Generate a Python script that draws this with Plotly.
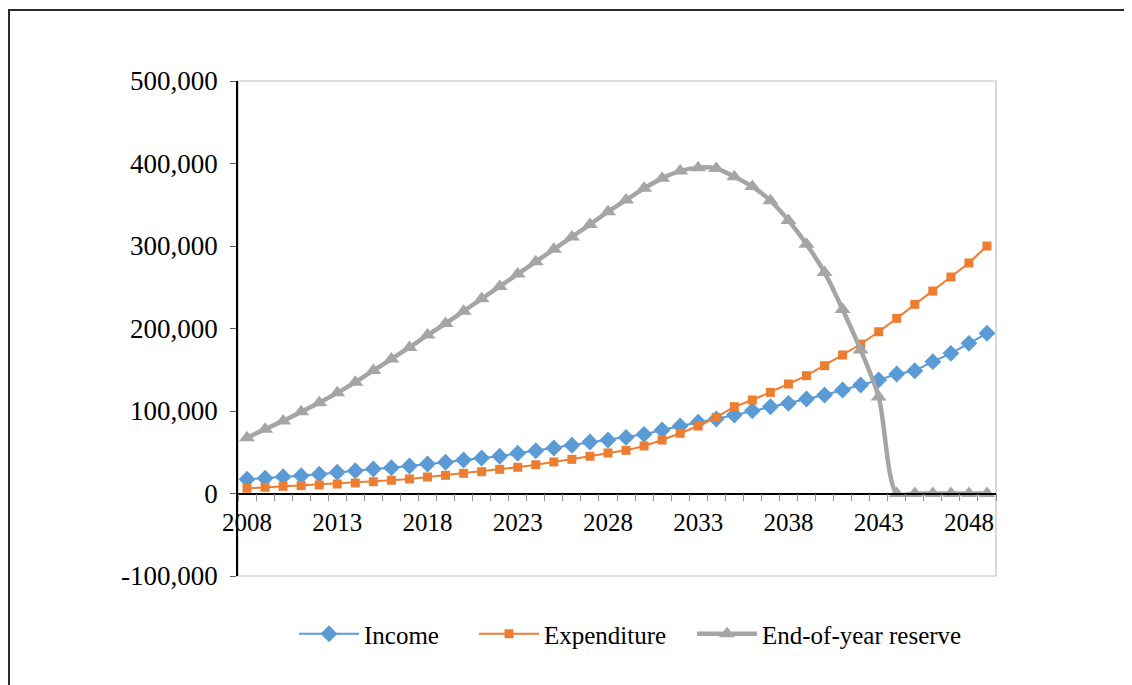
import plotly.graph_objects as go

years = list(range(2008, 2050))

income = [17200, 18400, 20400, 21600, 23300, 25700, 27600, 29700, 31300, 33300,
          35800, 37800, 40600, 43000, 45100, 48700, 51900, 55100, 58400, 62400,
          64800, 68000, 71700, 77000, 81800, 86300, 90300, 95100, 100400, 105200,
          109300, 114500, 119400, 125400, 131500, 137600, 144800, 148800, 159800, 169900,
          182000, 194200]

expenditure = [6300, 7500, 8700, 9500, 10300, 11500, 12700, 14300, 16000, 17600,
               20000, 22000, 24500, 26400, 29300, 31800, 34900, 38200, 41400, 45100,
               49100, 52300, 57600, 64800, 73000, 81800, 92300, 105200, 113300, 122600,
               132700, 142800, 154900, 167900, 181200, 196100, 212300, 229300, 245400, 262400,
               279400, 300000]

reserve = [67500, 78000, 88000, 99000, 110000, 122000, 135000, 149000, 163000, 177000,
           192000, 206000, 221000, 236000, 251000, 266000, 281000, 296000, 311000, 326000,
           341500, 355700, 369900, 382000, 391000, 395000, 394000, 384000, 372000, 355000,
           331000, 302000, 268000, 223000, 174000, 117000, 0, 0, 0, 0,
           0, 0]

x_tick_vals = [2008, 2013, 2018, 2023, 2028, 2033, 2038, 2043, 2048]
x_tick_text = [str(v) for v in x_tick_vals]
y_tick_vals = [-100000, 0, 100000, 200000, 300000, 400000, 500000]
y_tick_text = ["-100,000", "0", "100,000", "200,000", "300,000", "400,000", "500,000"]

FONT = "Liberation Serif, Times New Roman, serif"

# page has an 8px body margin; figure is sized to fit the window
OFF = 8
W, H = 1132 - OFF, 685 - OFF
L, R, T, B = 238 - OFF, 136, 81 - OFF, 109
pw, ph = W - L - R, H - T - B

def px_x(p):
    return (p - OFF - L) / pw

def px_y(p):
    return (H - B - (p - OFF)) / ph

fig = go.Figure()
fig.add_trace(go.Scatter(
    x=years, y=income, name="Income", mode="lines+markers", legend="legend",
    line=dict(color="#5B9BD5", width=2),
    marker=dict(symbol="diamond", size=13, color="#5B9BD5"),
))
fig.add_trace(go.Scatter(
    x=years, y=expenditure, name="Expenditure", mode="lines+markers", legend="legend2",
    line=dict(color="#ED7D31", width=2),
    marker=dict(symbol="square", size=9, color="#ED7D31"),
))
fig.add_trace(go.Scatter(
    x=years, y=reserve, name="End-of-year reserve", mode="lines+markers", legend="legend3",
    line=dict(color="#A5A5A5", width=4.5, shape="spline", smoothing=0.8),
    marker=dict(symbol="triangle-up", size=14, color="#A5A5A5"),
))

def leg(xpix):
    return dict(orientation="h", x=px_x(xpix), xanchor="left", y=px_y(634), yanchor="middle",
                font=dict(family=FONT, size=25, color="black"),
                itemwidth=60, bgcolor="rgba(0,0,0,0)", borderwidth=0)

fig.update_layout(
    width=W, height=H, autosize=False,
    margin=dict(l=L, r=R, t=T, b=B, pad=0),
    paper_bgcolor="white", plot_bgcolor="white",
    font=dict(family=FONT, size=25, color="black"),
    showlegend=True,
    legend=leg(294), legend2=leg(474), legend3=leg(692),
    xaxis=dict(
        range=[2007.5, 2049.5], anchor="free", position=1/6,
        tickmode="array", tickvals=x_tick_vals, ticktext=x_tick_text,
        ticks="", showline=True, linecolor="black", linewidth=1.5,
        showgrid=False, zeroline=False,
        tickfont=dict(family=FONT, size=25, color="black"),
        ticklabelstandoff=7,
        minor=dict(tick0=2007.5, dtick=1, ticks="outside", ticklen=7,
                   tickcolor="#8c8c8c", tickwidth=1, showgrid=False),
    ),
    yaxis=dict(
        range=[-100000, 500000],
        tickmode="array", tickvals=y_tick_vals, ticktext=y_tick_text,
        ticks="outside", ticklen=6, tickcolor="#595959",
        showline=True, linecolor="black", linewidth=1.5,
        showgrid=False, zeroline=False,
        tickfont=dict(family=FONT, size=27, color="black"),
        ticklabelstandoff=7,
    ),
    shapes=[
        dict(type="rect", xref="paper", yref="paper", x0=0, x1=1, y0=0, y1=1,
             line=dict(color="#BFBFBF", width=1.2), layer="below"),
        dict(type="rect", xref="paper", yref="paper",
             x0=px_x(9), x1=px_x(1150), y0=px_y(700), y1=px_y(10),
             line=dict(color="#2b2b2b", width=2), layer="below"),
    ],
)

fig.write_html("out.html")
